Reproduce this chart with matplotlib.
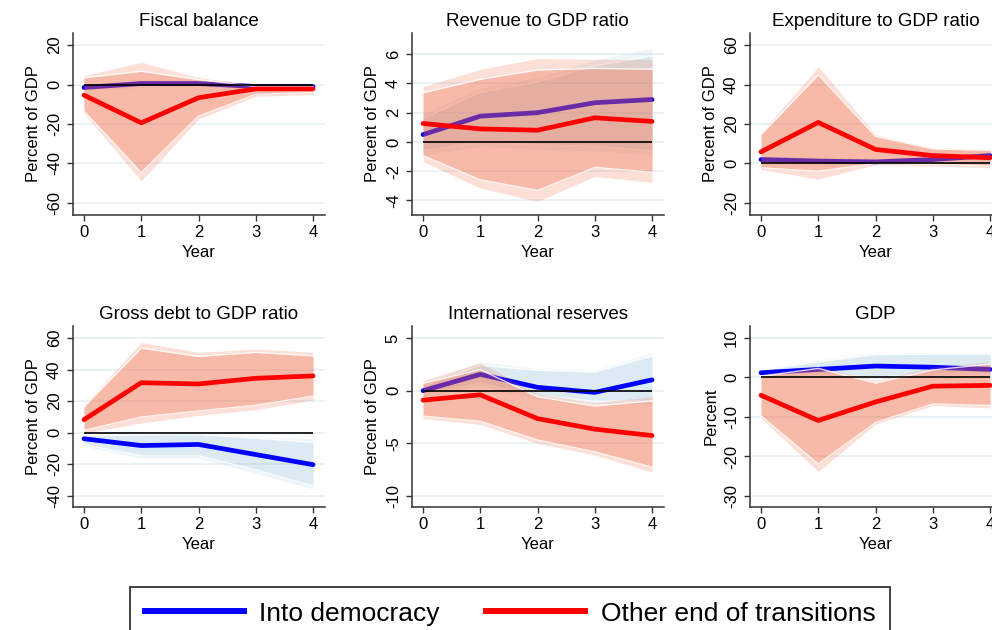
import matplotlib
matplotlib.use("Agg")
import matplotlib.pyplot as plt
from matplotlib.lines import Line2D

plt.rcParams["font.family"] = ["Liberation Sans", "DejaVu Sans"]

YEARS = [0, 1, 2, 3, 4]

# each band is (lower, upper); "in" = narrow band, "out" = wide band
fiscal_dem = [-1.5, 0.5, 0.5, -1.0, -1.0]
fiscal_dem_in = ([-2.5, -0.8, -0.5, -2.0, -2.0], [-0.5, 1.8, 1.5, 0.0, 0.0])
fiscal_dem_out = ([-3.0, -1.5, -1.0, -2.5, -2.5], [0.0, 2.5, 2.0, 0.5, 0.5])
fiscal_oth = [-5.4, -19.4, -6.7, -2.2, -2.2]
fiscal_oth_in = ([-13.5, -44.6, -16.0, -5.0, -4.0], [3.4, 6.7, 2.5, -1.0, -1.0])
fiscal_oth_out = ([-14.5, -48.8, -17.5, -6.0, -5.0], [4.5, 11.3, 3.5, 0.0, 0.0])

revenue_dem = [0.5, 1.76, 2.0, 2.68, 2.9]
revenue_dem_in = ([-0.6, 0.0, -0.2, -0.3, -0.6], [1.6, 3.4, 4.1, 5.2, 5.9])
revenue_dem_out = ([-0.9, -0.3, -0.5, -0.6, -0.9], [1.9, 3.7, 4.4, 5.6, 6.4])
revenue_oth = [1.26, 0.89, 0.8, 1.65, 1.4]
revenue_oth_in = ([-0.94, -2.59, -3.32, -1.74, -2.08], [3.36, 4.28, 4.92, 5.03, 4.97])
revenue_oth_out = ([-1.33, -3.16, -4.07, -2.36, -2.77], [3.78, 4.97, 5.7, 5.65, 5.65])

expend_dem = [2.0, 1.2, 0.8, 2.0, 4.0]
expend_dem_in = ([0.5, -0.5, -0.5, 0.5, 2.0], [3.5, 3.0, 2.0, 3.5, 5.5])
expend_dem_out = ([0.0, -1.0, -1.0, 0.0, 1.5], [4.0, 3.5, 2.5, 4.0, 6.0])
expend_oth = [5.9, 20.8, 7.1, 4.0, 2.9]
expend_oth_in = ([-2.2, -3.9, 0.0, -0.5, -1.3], [14.6, 44.9, 13.8, 7.4, 6.7])
expend_oth_out = ([-3.0, -8.0, -0.5, -1.3, -2.2], [15.5, 49.0, 14.6, 7.9, 7.4])

debt_dem = [-3.8, -8.1, -7.4, -13.8, -20.2]
debt_dem_in = ([-7.5, -14.5, -14.5, -23.5, -33.6], [-1.9, -1.2, -1.0, -3.5, -6.0])
debt_dem_out = ([-8.5, -16.0, -16.0, -25.5, -35.7], [-1.2, -0.5, -0.3, -2.5, -3.8])
debt_oth = [8.3, 31.7, 30.9, 34.5, 36.0]
debt_oth_in = ([1.5, 10.0, 13.8, 17.4, 23.2], [16.4, 53.6, 48.3, 50.9, 48.7])
debt_oth_out = ([-0.2, 6.2, 11.0, 14.7, 20.6], [17.4, 57.2, 50.9, 53.0, 50.9])

reserves_dem = [0.0, 1.55, 0.32, -0.16, 1.03]
reserves_dem_in = ([-0.35, 0.7, -0.45, -1.0, -0.97], [0.4, 2.42, 1.94, 1.77, 3.3])
reserves_dem_out = ([-0.5, 0.45, -0.8, -1.2, -1.3], [0.65, 2.74, 2.1, 1.94, 3.6])
reserves_oth = [-0.9, -0.39, -2.65, -3.65, -4.26]
reserves_oth_in = ([-2.42, -2.9, -4.68, -5.8, -7.26], [0.7, 2.0, -0.58, -1.45, -0.97])
reserves_oth_out = ([-2.65, -3.2, -5.0, -6.1, -7.74], [0.97, 2.65, -0.3, -1.13, -0.58])

gdp_dem = [1.2, 2.05, 2.9, 2.6, 2.05]
gdp_dem_in = ([0.5, 0.9, 0.1, 0.9, 1.3], [1.8, 4.0, 5.8, 5.9, 5.9])
gdp_dem_out = ([0.3, 0.6, -0.3, 0.6, 1.0], [2.0, 4.4, 6.2, 6.3, 6.3])
gdp_oth = [-4.5, -10.9, -6.2, -2.2, -2.0]
gdp_oth_in = ([-9.7, -21.9, -11.4, -6.7, -7.1], [0.3, 2.3, -1.4, 1.9, 3.4])
gdp_oth_out = ([-10.3, -23.8, -11.8, -7.1, -7.7], [0.85, 2.7, -0.7, 2.6, 4.0])

TITLES = ["Fiscal balance", "Revenue to GDP ratio", "Expenditure to GDP ratio",
          "Gross debt to GDP ratio", "International reserves", "GDP"]
YLABELS = ["Percent of GDP"] * 5 + ["Percent"]
YTICKS = [[-60, -40, -20, 0, 20], [-4, -2, 0, 2, 4, 6], [-20, 0, 20, 40, 60],
          [-40, -20, 0, 20, 40, 60], [-10, -5, 0, 5], [-30, -20, -10, 0, 10]]
YLIMS = [(-66.1, 26.1), (-5.0, 7.45), (-26.1, 66.1),
         (-47.0, 67.6), (-11.04, 6.14), (-32.8, 13.04)]
SERIES = [
    (fiscal_dem, fiscal_dem_in, fiscal_dem_out, fiscal_oth, fiscal_oth_in, fiscal_oth_out),
    (revenue_dem, revenue_dem_in, revenue_dem_out, revenue_oth, revenue_oth_in, revenue_oth_out),
    (expend_dem, expend_dem_in, expend_dem_out, expend_oth, expend_oth_in, expend_oth_out),
    (debt_dem, debt_dem_in, debt_dem_out, debt_oth, debt_oth_in, debt_oth_out),
    (reserves_dem, reserves_dem_in, reserves_dem_out, reserves_oth, reserves_oth_in, reserves_oth_out),
    (gdp_dem, gdp_dem_in, gdp_dem_out, gdp_oth, gdp_oth_in, gdp_oth_out),
]

BLUE, RED = "#0000ff", "#ff0000"
BLUE_BAND, RED_BAND = "#78b4d2", "#f0643c"
GRID = "#e9f1f4"

W, H = 992, 630
LEFTS = [73, 412, 750]      # pixel positions of the plot regions
ROWS = [(33, 215), (326, 507)]
AX_W = 251.5


def band(ax, lohi, color, alpha, z):
    lo, hi = lohi
    ax.fill_between(YEARS, lo, hi, color=color, alpha=alpha, lw=0, zorder=z)
    ax.plot(YEARS, lo, color="white", lw=1.0, alpha=0.8, zorder=z)
    ax.plot(YEARS, hi, color="white", lw=1.0, alpha=0.8, zorder=z)


fig = plt.figure(figsize=(W / 100, H / 100), dpi=100)

for i, (title, ylab, ticks, ylim, ser) in enumerate(zip(TITLES, YLABELS, YTICKS, YLIMS, SERIES)):
    top, bot = ROWS[i // 3]
    left = LEFTS[i % 3]
    ax = fig.add_axes([left / W, 1 - bot / H, AX_W / W, (bot - top) / H])
    dem, dem_in, dem_out, oth, oth_in, oth_out = ser

    for t in ticks:
        ax.axhline(t, color=GRID, lw=1.3, zorder=0)

    ax.fill_between(YEARS, *dem_out, color=BLUE_BAND, alpha=0.12, lw=0, zorder=1)
    band(ax, dem_in, BLUE_BAND, 0.15, 1)
    ax.plot(YEARS, dem, color=BLUE, lw=3.4, solid_capstyle="round", zorder=2)
    ax.fill_between(YEARS, *oth_out, color=RED_BAND, alpha=0.2, lw=0, zorder=3)
    band(ax, oth_in, RED_BAND, 0.3, 3)
    ax.hlines(0, YEARS[0], YEARS[-1], color="black", lw=1.2, zorder=4)
    ax.plot(YEARS, oth, color=RED, lw=3.4, solid_capstyle="round", zorder=5)

    ax.set_xlim(-0.192, 4.2)
    ax.set_ylim(*ylim)
    ax.set_xticks(YEARS)
    ax.set_yticks(ticks)
    ax.set_yticklabels([str(t) for t in ticks], rotation=90, va="center")
    ax.tick_params(axis="both", labelsize=12, length=4, width=1, color="#333333", pad=3)
    ax.tick_params(axis="y", pad=4)
    for s in ("top", "right"):
        ax.spines[s].set_visible(False)
    for s in ("left", "bottom"):
        ax.spines[s].set_color("#333333")
        ax.spines[s].set_linewidth(1.1)
    ax.set_title(title, fontsize=13.5, pad=5)
    ax.set_xlabel("Year", fontsize=12, labelpad=4)
    ax.set_ylabel(ylab, fontsize=12, labelpad=4)

handles = [Line2D([], [], color=BLUE, lw=4.3), Line2D([], [], color=RED, lw=4.3)]
leg = fig.legend(handles, ["Into democracy", "Other end of transitions"],
                 loc="upper center", bbox_to_anchor=(510 / W, 1 - 587 / H), ncol=2,
                 fontsize=19, frameon=True, fancybox=False, edgecolor="black",
                 handlelength=3.75, handletextpad=0.6, columnspacing=1.74,
                 borderpad=0.55, borderaxespad=0)
leg.get_frame().set_linewidth(1.3)

fig.savefig("out.png", dpi=100)
